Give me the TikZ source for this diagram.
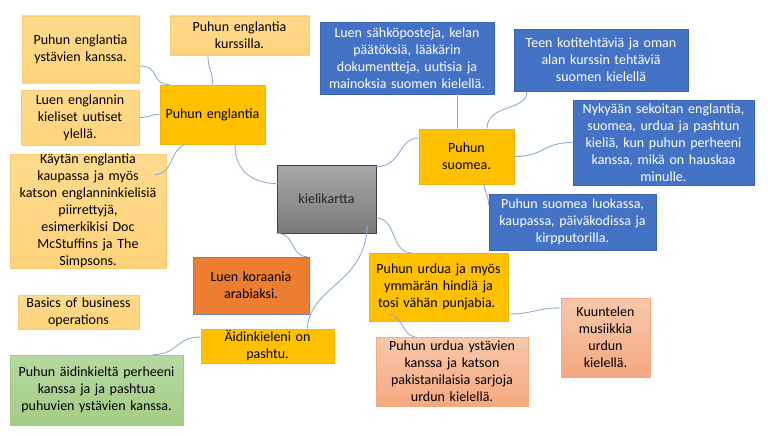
\documentclass[tikz,border=0pt]{standalone}
\usepackage{fontspec}
\setmainfont{Carlito}
\definecolor{lotop}{RGB}{255,218,142}
\definecolor{lobot}{RGB}{255,211,122}
\definecolor{loedge}{RGB}{252,205,110}
\definecolor{gold}{RGB}{255,192,0}
\definecolor{goldedge}{RGB}{240,182,10}
\definecolor{bluefill}{RGB}{68,114,196}
\definecolor{blueedge}{RGB}{60,100,175}
\definecolor{graytop}{RGB}{168,168,168}
\definecolor{graybot}{RGB}{122,122,122}
\definecolor{grayedge}{RGB}{64,64,64}
\definecolor{orfill}{RGB}{237,125,49}
\definecolor{oredge}{RGB}{110,132,180}
\definecolor{satop}{RGB}{248,200,172}
\definecolor{sabot}{RGB}{244,168,128}
\definecolor{saedge}{RGB}{244,170,125}
\definecolor{grtop}{RGB}{183,216,162}
\definecolor{grbot}{RGB}{163,205,134}
\definecolor{gredge}{RGB}{160,205,130}
\definecolor{link}{RGB}{143,170,220}
\begin{document}
\begin{tikzpicture}[x=1pt,y=-1pt,
  base/.style={inner sep=0pt, align=center, font=\fontsize{14}{17}\selectfont, line width=0.8pt},
  lo/.style={base, draw=loedge, top color=lotop, bottom color=lobot},
  gd/.style={base, draw=goldedge, fill=gold},
  bl/.style={base, draw=blueedge, fill=bluefill, text=white},
  gy/.style={base, draw=grayedge, top color=graytop, bottom color=graybot, text=black!85},
  org/.style={base, draw=oredge, fill=orfill},
  sa/.style={base, draw=saedge, top color=satop, bottom color=sabot},
  gr/.style={base, draw=gredge, top color=grtop, bottom color=grbot},
  conn/.style={draw=link, line width=0.9pt}]
\useasboundingbox (0,0) rectangle (768,436);
% English branch
\node[lo, minimum width=117pt, minimum height=67pt, text width=111pt] (A) at (80.5,49.5) {Puhun englantia\\ystävien kanssa.};
\node[lo, minimum width=139pt, minimum height=39pt, text width=133pt] (B) at (239.5,35.5) {Puhun englantia\\kurssilla.};
\node[gd, minimum width=105pt, minimum height=59pt, text width=101pt] (C) at (212.5,114.5) {Puhun englantia};
\node[lo, minimum width=118pt, minimum height=55pt, text width=112pt] (D) at (80,117.5) {Luen englannin\\kieliset uutiset\\ylellä.};
\node[lo, minimum width=156pt, minimum height=114pt, text width=152pt] (E) at (88,211) {Käytän englantia\\kaupassa ja myös\\katson englanninkielisiä\\piirrettyjä,\\esimerkikisi Doc\\McStuffins ja The\\Simpsons.};
% centre
\node[gy, minimum width=99pt, minimum height=68pt, text width=95pt] (F) at (326.5,199) {kielikartta};
\node[org, minimum width=116pt, minimum height=57pt, text width=110pt] (G) at (251,285.5) {Luen koraania\\arabiaksi.};
\node[lo, minimum width=121pt, minimum height=34pt, text width=117pt] (H) at (78.5,312) {Basics of business\\operations};
\node[gd, minimum width=133pt, minimum height=34pt, text width=129pt] (I) at (267.5,346) {Äidinkieleni on\\pashtu.};
\node[gr, minimum width=173pt, minimum height=70pt, text width=169pt] (J) at (96.5,390) {Puhun äidinkieltä perheeni\\kanssa ja ja pashtua\\puhuvien ystävien kanssa.};
% Finnish branch
\node[bl, minimum width=174pt, minimum height=72pt, text width=170pt] (K) at (407,58) {Luen sähköposteja, kelan\\päätöksiä, lääkärin\\dokumentteja, uutisia ja\\mainoksia suomen kielellä.};
\node[bl, minimum width=174pt, minimum height=62pt, text width=170pt] (L) at (601,60) {Teen kotitehtäviä ja oman\\alan kurssin tehtäviä\\suomen kielellä};
\node[gd, minimum width=95pt, minimum height=55pt, text width=91pt] (M) at (466.5,156.5) {Puhun\\suomea.};
\node[bl, minimum width=181pt, minimum height=85pt, text width=177pt] (N) at (663.5,142.5) {Nykyään sekoitan englantia,\\suomea, urdua ja pashtun\\kieliä, kun puhun perheeni\\kanssa, mikä on hauskaa\\minulle.};
\node[bl, minimum width=167pt, minimum height=56pt, text width=163pt] (O) at (572.5,222) {Puhun suomea luokassa,\\kaupassa, päiväkodissa ja\\kirpputorilla.};
% Urdu branch
\node[gd, minimum width=139pt, minimum height=68pt, text width=135pt] (P) at (438.5,287) {Puhun urdua ja myös\\ymmärän hindiä ja\\tosi vähän punjabia.{\color{white}.}};
\node[sa, minimum width=89pt, minimum height=79pt, text width=85pt] (Q) at (605.5,337.5) {Kuuntelen\\musiikkia\\urdun\\kielellä.};
\node[sa, minimum width=152pt, minimum height=69pt, text width=148pt] (R) at (452,371.5) {Puhun urdua ystävien\\kanssa ja katson\\pakistanilaisia sarjoja\\urdun kielellä.};
% connectors
\draw[conn] ([xshift=22.5pt]C.south) .. controls +(0,28) and +(-30,0) .. ([xshift=6pt,yshift=15pt]F.west);
\draw[conn] ([yshift=-16.5pt]A.east) .. controls +(22,0) and +(-20,0) .. ([xshift=10pt]C.north west);
\draw[conn] ([xshift=-31.5pt]B.south) .. controls +(0,16) and +(0,-16) .. (C.north);
\draw[conn] (D.east) .. controls +(10,0) and +(-10,0) .. (C.west);
\draw[conn] ([xshift=-27.5pt]C.south) .. controls +(-15,5) and +(18,0) .. ([xshift=67pt,yshift=-21pt]E.north);
\draw[conn] ([yshift=-2pt]F.north east) .. controls +(25,0) and +(-20,0) .. ([yshift=18.5pt]M.west);
\draw[conn] ([xshift=-9.5pt]M.north) -- ([xshift=50pt]K.south);
\draw[conn] ([xshift=20.5pt]M.north) .. controls +(0,-25) and +(0,20) .. ([xshift=-74pt]L.south);
\draw[conn] (M.east) .. controls +(30,0) and +(-30,0) .. (N.west);
\draw[conn] ([xshift=17.5pt,yshift=2pt]M.south) .. controls +(0,10) and +(0,-10) .. ([yshift=17pt]O.west);
\draw[conn] ([yshift=-19pt]F.east) .. controls +(20,0) and +(-20,0) .. ([xshift=-27.5pt]P.north);
\draw[conn] (F.south west) .. controls +(20,0) and +(-18,0) .. ([xshift=-2pt]G.north east);
\draw[conn] ([xshift=-9pt,yshift=8pt]F.south east) .. controls +(-3,60) and +(5,-45) .. ([xshift=39.5pt]I.north);
\draw[conn] ([yshift=9pt]I.west) .. controls +(-25,0) and +(25,0) .. ([xshift=56.5pt]J.north);
\draw[conn] ([yshift=-27pt]P.east) .. controls +(25,0) and +(-25,0) .. ([yshift=29.5pt]Q.west);
\draw[conn] ([xshift=-49.5pt,yshift=7pt]P.south) .. controls +(15,3) and +(-12,0) .. ([xshift=-37pt]R.north);
\end{tikzpicture}
\end{document}
